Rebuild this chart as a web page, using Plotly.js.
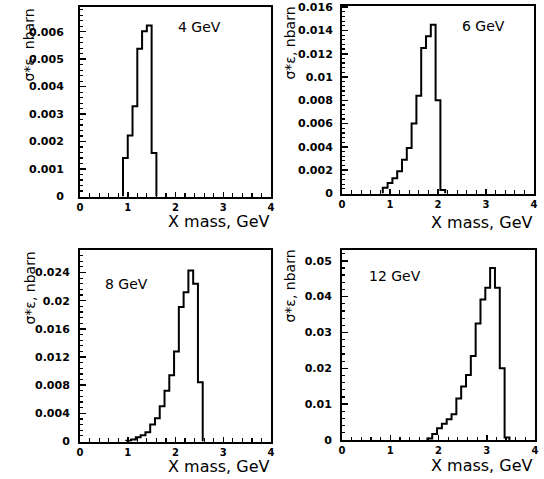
<!DOCTYPE html>
<html>
<head>
<meta charset="utf-8">
<script src="https://cdn.plot.ly/plotly-3.0.1.min.js"></script>
<style>html,body{margin:0;padding:0;background:#fff;}#chart{width:544px;height:479px;}</style>
</head>
<body>
<div id="chart"></div>
<script>
// ---- data ----
const panelLabels = ["4 GeV", "6 GeV", "8 GeV", "12 GeV"];

const edges4 = [0.9, 1.0, 1.1, 1.2, 1.3, 1.4, 1.5, 1.6];
const vals4  = [0.0014, 0.00222, 0.00329, 0.00538, 0.00602, 0.00623, 0.00158];

const edges6 = [0.85, 0.95, 1.05, 1.15, 1.25, 1.35, 1.45, 1.55, 1.65, 1.75, 1.85, 1.95, 2.05, 2.15];
const vals6  = [0.0005, 0.0009, 0.0013, 0.0019, 0.0029, 0.0039, 0.0060, 0.0084, 0.0125, 0.0135, 0.0145, 0.0080, 0.0003];

const edges8 = [0.97, 1.07, 1.17, 1.27, 1.37, 1.47, 1.57, 1.67, 1.77, 1.87, 1.97, 2.07, 2.17, 2.27, 2.37, 2.47, 2.57];
const vals8  = [0.0001, 0.0003, 0.0006, 0.0009, 0.0013, 0.0024, 0.0033, 0.0050, 0.0072, 0.0094, 0.0128, 0.0191, 0.0212, 0.0243, 0.0224, 0.0084];

const edges12 = [1.77, 1.87, 1.97, 2.07, 2.17, 2.27, 2.37, 2.47, 2.57, 2.67, 2.77, 2.87, 2.97, 3.07, 3.17, 3.27, 3.37, 3.47];
const vals12  = [0.0004, 0.0017, 0.0033, 0.0045, 0.0058, 0.0072, 0.0116, 0.0149, 0.0181, 0.0234, 0.0325, 0.0392, 0.0425, 0.0480, 0.0425, 0.0200, 0.0007];

const xTicks = [0, 1, 2, 3, 4];
const yTicks4  = [0, 0.001, 0.002, 0.003, 0.004, 0.005, 0.006];
const yTicks6  = [0, 0.002, 0.004, 0.006, 0.008, 0.01, 0.012, 0.014, 0.016];
const yTicks8  = [0, 0.004, 0.008, 0.012, 0.016, 0.02, 0.024];
const yTicks12 = [0, 0.01, 0.02, 0.03, 0.04, 0.05];

const xTitle = "X mass, GeV";
const yTitle = "σ*ε, nbarn";

// ---- build step outlines ----
function stepXY(edges, vals) {
  const x = [edges[0]], y = [0];
  for (let i = 0; i < vals.length; i++) { x.push(edges[i]); y.push(vals[i]); }
  const n = vals.length;
  x.push(edges[n]); y.push(vals[n - 1]);
  x.push(edges[n]); y.push(0);
  return {x, y};
}

const series = [[edges4, vals4], [edges6, vals6], [edges8, vals8], [edges12, vals12]];
const traces = series.map((s, i) => {
  const d = stepXY(s[0], s[1]);
  return {
    type: 'scatter', mode: 'lines', x: d.x, y: d.y,
    line: {shape: 'hv', color: '#000', width: 2},
    xaxis: i === 0 ? 'x' : 'x' + (i + 1),
    yaxis: i === 0 ? 'y' : 'y' + (i + 1),
    hoverinfo: 'skip', showlegend: false
  };
});

const W = 544, H = 479;
// pixel frames [left, right, top, bottom]
const frames = [[80, 271, 7, 196.5], [342, 534, 6, 193.5], [80, 271, 250, 441.5], [342, 535, 250, 440]];
const yRanges = [0.0069, 0.0161, 0.0272, 0.053];
const yTickSets = [yTicks4, yTicks6, yTicks8, yTicks12];
const standoffs = [12, 5, 6, 6];

const yTickFont = {family: 'DejaVu Sans', size: 11, color: '#000', weight: 'bold'};
const xTickFont = {family: 'DejaVu Sans', size: 10, color: '#000', weight: 'bold'};

const layout = {
  width: W, height: H,
  margin: {l: 0, r: 0, t: 0, b: 0},
  paper_bgcolor: '#fff', plot_bgcolor: '#fff',
  showlegend: false,
  annotations: []
};

frames.forEach((f, i) => {
  const sx = i === 0 ? '' : String(i + 1);
  const yt = yTickSets[i];
  const dy = yt[1] - yt[0];
  layout['xaxis' + sx] = {
    domain: [f[0] / W, f[1] / W], anchor: 'y' + sx, range: [0, 4],
    tickvals: xTicks, ticks: 'inside', ticklen: 5, tickwidth: 1.5, tickcolor: '#000',
    minor: {dtick: 0.2, tick0: 0, ticks: 'inside', ticklen: 3.5, tickwidth: 1.2, tickcolor: '#000'},
    showline: true, mirror: true, linewidth: 2, linecolor: '#000',
    showgrid: false, zeroline: false, tickfont: xTickFont, ticklabelstandoff: 0
  };
  layout['yaxis' + sx] = {
    domain: [1 - f[3] / H, 1 - f[2] / H], anchor: 'x' + sx, range: [0, yRanges[i]],
    tickvals: yt, ticks: 'inside', ticklen: 6, tickwidth: 1.5, tickcolor: '#000',
    minor: {dtick: dy / 5, tick0: 0, ticks: 'inside', ticklen: 3, tickwidth: 1.2, tickcolor: '#000'},
    showline: true, mirror: true, linewidth: 2, linecolor: '#000',
    showgrid: false, zeroline: false, tickfont: yTickFont, ticklabelstandoff: standoffs[i]
  };
});

// titles and panel labels (pixel positions converted to paper coordinates)
const yTitlePos = [[28, 7], [289, 5], [29, 250], [289, 248]];
const xTitlePos = [[272, 221], [535, 222], [272, 466], [535, 465]];
const labelPos = [[176, 27.5], [460, 26], [103, 284], [367, 276]];

for (let i = 0; i < 4; i++) {
  layout.annotations.push({
    xref: 'paper', yref: 'paper', x: yTitlePos[i][0] / W, y: 1 - yTitlePos[i][1] / H,
    xanchor: 'center', yanchor: 'top', textangle: -90, showarrow: false,
    text: yTitle, font: {family: 'DejaVu Sans', size: 14, color: '#000'}
  });
  layout.annotations.push({
    xref: 'paper', yref: 'paper', x: xTitlePos[i][0] / W, y: 1 - xTitlePos[i][1] / H,
    xanchor: 'right', yanchor: 'middle', showarrow: false,
    text: xTitle, font: {family: 'DejaVu Sans', size: 16, color: '#000'}
  });
  layout.annotations.push({
    xref: 'paper', yref: 'paper', x: labelPos[i][0] / W, y: 1 - labelPos[i][1] / H,
    xanchor: 'left', yanchor: 'middle', showarrow: false,
    text: panelLabels[i], font: {family: 'DejaVu Sans', size: 14, color: '#000'}
  });
}

Plotly.newPlot('chart', traces, layout, {displayModeBar: false, staticPlot: true});
</script>
</body>
</html>
